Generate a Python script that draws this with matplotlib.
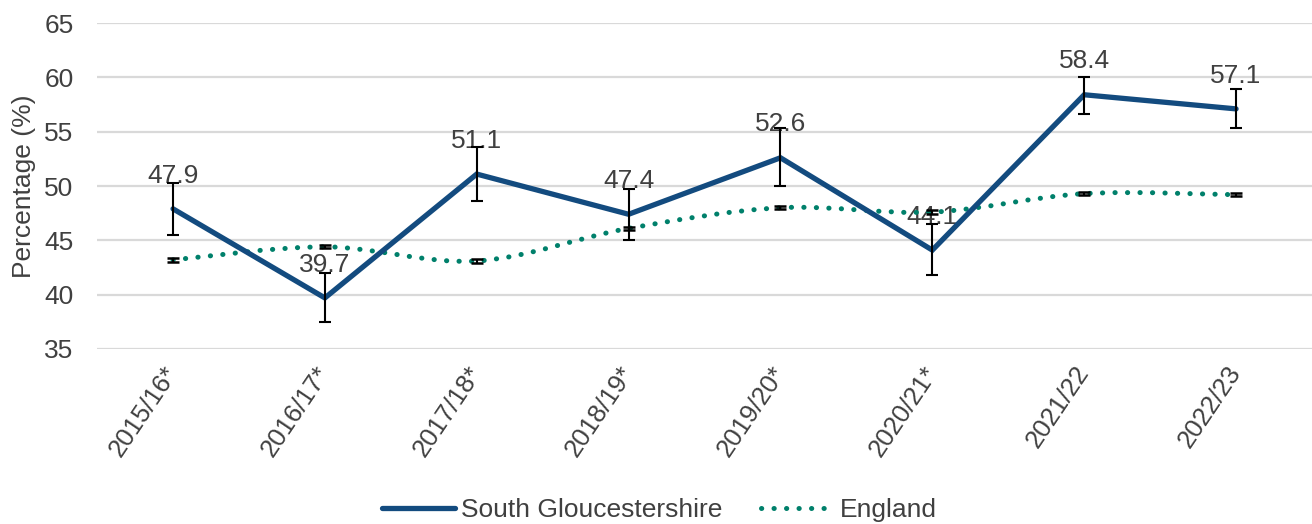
import matplotlib
matplotlib.use("Agg")
import matplotlib.pyplot as plt
from matplotlib.path import Path
from matplotlib.patches import PathPatch
from matplotlib.lines import Line2D

plt.rcParams['font.family'] = ['Liberation Sans', 'DejaVu Sans']

years = ["2015/16*", "2016/17*", "2017/18*", "2018/19*", "2019/20*",
         "2020/21*", "2021/22", "2022/23"]
south_glos = [47.9, 39.7, 51.1, 47.4, 52.6, 44.1, 58.4, 57.1]
south_glos_lower = [45.5, 37.5, 48.6, 45.0, 50.0, 41.8, 56.6, 55.3]
south_glos_upper = [50.3, 42.0, 53.6, 49.7, 55.3, 46.5, 60.0, 58.9]
england = [43.2, 44.4, 43.1, 46.1, 48.0, 47.6, 49.3, 49.2]
england_lower = [43.05, 44.25, 42.95, 45.95, 47.85, 47.45, 49.15, 49.05]
england_upper = [43.35, 44.55, 43.25, 46.25, 48.15, 47.75, 49.45, 49.35]

SG_COLOR = "#134b7f"
ENG_COLOR = "#00806b"
TEXT_COLOR = "#404040"
FS = 19

fig = plt.figure(figsize=(13.12, 5.24), dpi=100)
ax = fig.add_axes([0.074, 0.334, 0.926, 0.622])

x = list(range(len(years)))

# gridlines
ax.set_ylim(35, 65)
ax.set_yticks([35, 40, 45, 50, 55, 60, 65])
ax.yaxis.grid(True, color="#d9d9d9", linewidth=1.6, zorder=0)
ax.set_axisbelow(True)
ax.set_xlim(-0.5, len(years) - 0.5)
for s in ax.spines.values():
    s.set_visible(False)


def smooth_path(xs, ys, tension=1 / 6):
    """Cubic Bezier path through the points (Catmull-Rom style)."""
    verts = [(xs[0], ys[0])]
    codes = [Path.MOVETO]
    n = len(xs)
    for i in range(n - 1):
        x0, y0 = (xs[i - 1], ys[i - 1]) if i > 0 else (xs[i], ys[i])
        x1, y1 = xs[i], ys[i]
        x2, y2 = xs[i + 1], ys[i + 1]
        x3, y3 = (xs[i + 2], ys[i + 2]) if i + 2 < n else (x2, y2)
        c1 = (x1 + (x2 - x0) * tension, y1 + (y2 - y0) * tension)
        c2 = (x2 - (x3 - x1) * tension, y2 - (y3 - y1) * tension)
        verts += [c1, c2, (x2, y2)]
        codes += [Path.CURVE4] * 3
    return Path(verts, codes)


DOTS = (0, (0.05, 2.45))

# England: smoothed dotted line
eng_patch = PathPatch(smooth_path(x, england), facecolor="none",
                      edgecolor=ENG_COLOR, linewidth=3.6,
                      linestyle=DOTS, capstyle="round", zorder=3)
ax.add_patch(eng_patch)
ax.errorbar(x, england,
            yerr=[[e - l for e, l in zip(england, england_lower)],
                  [u - e for e, u in zip(england, england_upper)]],
            fmt="none", ecolor="black", elinewidth=1.5, capsize=4,
            capthick=1.8, zorder=4)

# South Gloucestershire: solid line with confidence intervals
ax.plot(x, south_glos, color=SG_COLOR, linewidth=3.8,
        solid_joinstyle="miter", solid_capstyle="round", zorder=5)
ax.errorbar(x, south_glos,
            yerr=[[v - l for v, l in zip(south_glos, south_glos_lower)],
                  [u - v for v, u in zip(south_glos, south_glos_upper)]],
            fmt="none", ecolor="black", elinewidth=1.5, capsize=4.5,
            capthick=1.5, zorder=6)

for xi, v in zip(x, south_glos):
    ax.annotate(f"{v:.1f}", (xi, v), xytext=(0, 24),
                textcoords="offset points", ha="center", va="center",
                fontsize=FS, color=TEXT_COLOR, zorder=2)

ax.set_xticks(x)
ax.set_xticklabels(years, rotation=56, ha="right", va="center",
                   rotation_mode="anchor", fontsize=18.5, color=TEXT_COLOR)
ax.tick_params(axis="x", length=0, pad=14)
ax.tick_params(axis="y", length=0, pad=17, labelsize=FS,
               labelcolor=TEXT_COLOR)
ax.set_ylabel("Percentage (%)", fontsize=FS, color=TEXT_COLOR, labelpad=6)

handles = [
    Line2D([], [], color=SG_COLOR, linewidth=3.8, solid_capstyle="round"),
    Line2D([], [], color=ENG_COLOR, linewidth=3.6,
           linestyle=DOTS, dash_capstyle="round"),
]
fig.legend(handles, ["South Gloucestershire", "England"],
           loc="center", bbox_to_anchor=(0.5025, 0.027), ncol=2,
           frameon=False, fontsize=FS, handlelength=2.77,
           handletextpad=0.22, columnspacing=1.45,
           labelcolor=TEXT_COLOR)

fig.savefig("out.png", dpi=100)
